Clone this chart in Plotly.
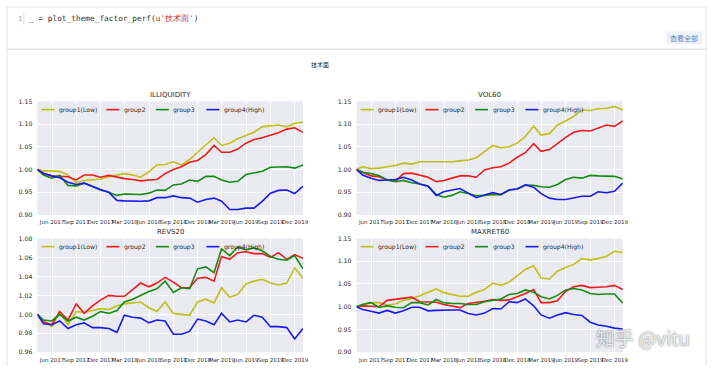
import pandas as pd
import plotly.graph_objects as go

W, H = 720, 369

# ---------------- data ----------------
start_date = ['2017-04-07']
month_ends = [d.strftime('%Y-%m-%d') for d in
              (pd.date_range('2017-05-01', periods=33, freq='MS') - pd.Timedelta(days=1))]
dates = pd.to_datetime(start_date + month_ends)

group_names = ['group1(Low)', 'group2', 'group3', 'group4(High)']
group_colors = ['#bfbf1a', '#f01a1a', '#148a14', '#1a1aee']

factor_titles = ['ILLIQUIDITY', 'VOL60', 'REVS20', 'MAXRET60']

illiq_g1 = [1.000, 0.997, 0.997, 0.996, 0.988, 0.971, 0.976, 0.977, 0.979, 0.984, 0.988, 0.991, 0.988, 0.983,
            0.995, 1.010, 1.011, 1.017, 1.010, 1.022, 1.038, 1.055, 1.070, 1.053, 1.058, 1.068, 1.075, 1.082,
            1.094, 1.096, 1.098, 1.094, 1.102, 1.104]
illiq_g2 = [1.000, 0.992, 0.986, 0.985, 0.984, 0.977, 0.988, 0.988, 0.983, 0.987, 0.983, 0.980, 0.978, 0.975,
            0.977, 0.978, 0.991, 1.000, 1.006, 1.016, 1.020, 1.033, 1.053, 1.038, 1.038, 1.045, 1.058, 1.066,
            1.070, 1.076, 1.081, 1.089, 1.092, 1.082]
illiq_g3 = [1.000, 0.988, 0.981, 0.987, 0.965, 0.964, 0.970, 0.962, 0.955, 0.950, 0.943, 0.946, 0.946, 0.945,
            0.948, 0.955, 0.954, 0.966, 0.968, 0.977, 0.974, 0.985, 0.985, 0.977, 0.972, 0.974, 0.989, 0.993,
            0.996, 1.005, 1.006, 1.006, 1.003, 1.010]
illiq_g4 = [1.000, 0.991, 0.986, 0.982, 0.972, 0.967, 0.970, 0.962, 0.956, 0.950, 0.932, 0.931, 0.930, 0.930,
            0.931, 0.938, 0.938, 0.942, 0.938, 0.937, 0.928, 0.934, 0.937, 0.930, 0.912, 0.912, 0.915, 0.915,
            0.930, 0.948, 0.954, 0.955, 0.947, 0.963]

vol_g1 = [1.000, 1.006, 1.002, 1.003, 1.006, 1.009, 1.014, 1.012, 1.017, 1.017, 1.017, 1.017, 1.017, 1.019,
          1.021, 1.026, 1.039, 1.053, 1.048, 1.050, 1.058, 1.073, 1.096, 1.076, 1.079, 1.098, 1.107, 1.117,
          1.131, 1.130, 1.134, 1.135, 1.139, 1.131]
vol_g2 = [1.000, 0.994, 0.986, 0.984, 0.978, 0.974, 0.991, 0.992, 0.988, 0.983, 0.973, 0.976, 0.981, 0.986,
          0.986, 0.983, 0.999, 1.004, 1.006, 1.014, 1.027, 1.037, 1.057, 1.040, 1.044, 1.058, 1.071, 1.082,
          1.086, 1.085, 1.092, 1.098, 1.095, 1.107]
vol_g3 = [1.000, 0.994, 0.991, 0.987, 0.977, 0.973, 0.976, 0.971, 0.968, 0.964, 0.945, 0.939, 0.943, 0.951,
          0.947, 0.942, 0.943, 0.945, 0.944, 0.955, 0.957, 0.966, 0.965, 0.962, 0.961, 0.967, 0.978, 0.983,
          0.981, 0.987, 0.986, 0.986, 0.985, 0.979]
vol_g4 = [1.000, 0.988, 0.981, 0.976, 0.977, 0.978, 0.983, 0.977, 0.968, 0.963, 0.943, 0.951, 0.955, 0.958,
          0.948, 0.938, 0.944, 0.949, 0.945, 0.955, 0.957, 0.966, 0.961, 0.947, 0.937, 0.934, 0.934, 0.937,
          0.941, 0.941, 0.951, 0.949, 0.952, 0.970]

rev_g1 = [1.000, 0.993, 0.987, 1.002, 0.989, 1.003, 1.002, 1.004, 1.006, 1.005, 1.009, 1.011, 1.012, 1.013,
          1.007, 1.003, 1.013, 1.001, 1.000, 0.999, 1.013, 1.016, 1.012, 1.028, 1.018, 1.021, 1.032, 1.035,
          1.037, 1.033, 1.031, 1.033, 1.049, 1.038]
rev_g2 = [1.000, 0.992, 0.989, 1.003, 0.994, 1.011, 1.001, 1.009, 1.015, 1.020, 1.019, 1.019, 1.026, 1.033,
          1.029, 1.033, 1.039, 1.034, 1.028, 1.028, 1.038, 1.039, 1.035, 1.061, 1.058, 1.065, 1.066, 1.064,
          1.064, 1.060, 1.065, 1.058, 1.063, 1.059]
rev_g3 = [1.000, 0.994, 0.993, 1.000, 0.993, 0.997, 0.994, 0.998, 1.003, 1.001, 1.004, 1.013, 1.016, 1.020,
          1.024, 1.027, 1.035, 1.023, 1.028, 1.027, 1.048, 1.050, 1.044, 1.069, 1.062, 1.071, 1.068, 1.070,
          1.067, 1.061, 1.058, 1.057, 1.062, 1.048]
rev_g4 = [1.000, 0.990, 0.989, 0.993, 0.985, 0.989, 0.991, 0.986, 0.986, 0.985, 0.981, 0.999, 0.997, 0.996,
          0.991, 0.994, 0.993, 0.979, 0.979, 0.982, 0.995, 0.993, 0.989, 1.001, 0.992, 0.994, 0.992, 0.999,
          0.997, 0.987, 0.987, 0.986, 0.974, 0.985]

max_g1 = [1.000, 1.005, 1.009, 1.009, 1.004, 1.006, 1.014, 1.018, 1.024, 1.031, 1.039, 1.031, 1.027, 1.023,
          1.023, 1.032, 1.038, 1.052, 1.047, 1.054, 1.068, 1.082, 1.090, 1.063, 1.061, 1.078, 1.086, 1.093,
          1.106, 1.103, 1.106, 1.111, 1.122, 1.119]
max_g2 = [1.000, 1.002, 1.001, 1.000, 1.014, 1.016, 1.018, 1.021, 1.011, 1.011, 1.010, 1.005, 1.002, 0.998,
          1.007, 1.009, 1.012, 1.016, 1.014, 1.015, 1.022, 1.029, 1.038, 1.009, 1.009, 1.013, 1.034, 1.044,
          1.047, 1.042, 1.043, 1.044, 1.047, 1.038]
max_g3 = [1.000, 1.005, 1.009, 0.999, 1.002, 0.999, 0.998, 1.009, 1.009, 1.004, 1.016, 1.009, 1.007, 1.007,
          1.005, 1.005, 1.011, 1.014, 1.017, 1.027, 1.029, 1.037, 1.032, 1.022, 1.017, 1.025, 1.037, 1.040,
          1.037, 1.029, 1.027, 1.028, 1.028, 1.008]
max_g4 = [1.000, 0.994, 0.990, 0.986, 0.992, 0.986, 0.991, 0.999, 0.999, 0.991, 0.992, 0.993, 0.993, 0.993,
          0.985, 0.982, 0.986, 0.996, 0.995, 1.011, 1.009, 1.017, 1.002, 0.982, 0.975, 0.982, 0.987, 0.983,
          0.981, 0.966, 0.960, 0.957, 0.953, 0.951]

tick_dates = ['2017-06-01', '2017-09-01', '2017-12-01', '2018-03-01', '2018-06-01', '2018-09-01',
              '2018-12-01', '2019-03-01', '2019-06-01', '2019-09-01', '2019-12-01']
tick_labels = ['Jun 2017', 'Sep 2017', 'Dec 2017', 'Mar 2018', 'Jun 2018', 'Sep 2018',
               'Dec 2018', 'Mar 2019', 'Jun 2019', 'Sep 2019', 'Dec 2019']

yticks_wide = [0.90, 0.95, 1.00, 1.05, 1.10, 1.15]
yticks_narrow = [0.96, 0.98, 1.00, 1.02, 1.04, 1.06, 1.08]

panel_series = [
    [illiq_g1, illiq_g2, illiq_g3, illiq_g4],
    [vol_g1, vol_g2, vol_g3, vol_g4],
    [rev_g1, rev_g2, rev_g3, rev_g4],
    [max_g1, max_g2, max_g3, max_g4],
]
panel_yticks = [yticks_wide, yticks_wide, yticks_narrow, yticks_wide]

# ---------------- layout geometry (pixels) ----------------
panel_px = [
    ((37.7, 305.5), (99.3, 215.0)),
    ((359.5, 628.0), (99.3, 215.0)),
    ((37.7, 305.5), (239.0, 355.0)),
    ((359.5, 628.0), (239.0, 355.0)),
]
legend_offsets = [4, 69, 118.5, 169]

FONT = 'DejaVu Sans'
TXT = '#2b2b2b'


def px_x(x):
    return x / W


def px_y(y):
    return 1 - y / H


fig = go.Figure()
layout = dict(
    width=W, height=H, autosize=False,
    margin=dict(l=0, r=0, t=0, b=0),
    paper_bgcolor='white', plot_bgcolor='#EAEAF2',
    showlegend=False,
    font=dict(family=FONT, size=6.2, color=TXT),
)
annotations = []
shapes = []

for k in range(4):
    suffix = '' if k == 0 else str(k + 1)
    (x0, x1), (y0, y1) = panel_px[k]
    ax_x = 'x' + suffix
    ax_y = 'y' + suffix
    for g in range(4):
        fig.add_trace(go.Scatter(
            x=dates, y=panel_series[k][g], mode='lines', name=group_names[g],
            line=dict(color=group_colors[g], width=1.6),
            xaxis=ax_x, yaxis=ax_y, hoverinfo='skip'))
    yt = panel_yticks[k]
    layout['xaxis' + suffix] = dict(
        domain=[px_x(x0), px_x(x1)], anchor=ax_y,
        range=[dates[0], dates[-1]],
        tickmode='array', tickvals=pd.to_datetime(tick_dates), ticktext=tick_labels,
        tickangle=0, showgrid=True, gridcolor='white', gridwidth=1,
        zeroline=False, showline=False, ticks='', ticklabelstandoff=3,
        tickfont=dict(family=FONT, size=5.5, color=TXT), fixedrange=True)
    layout['yaxis' + suffix] = dict(
        domain=[px_y(y1), px_y(y0)], anchor=ax_x,
        range=[yt[0], yt[-1]],
        tickmode='array', tickvals=yt, ticktext=['%.2f' % v for v in yt],
        showgrid=True, gridcolor='white', gridwidth=1,
        zeroline=False, showline=False, ticks='', ticklabelstandoff=4,
        tickfont=dict(family=FONT, size=6.2, color=TXT), fixedrange=True)

    # subplot title
    annotations.append(dict(
        text=factor_titles[k], xref=ax_x + ' domain', yref=ax_y + ' domain',
        x=0.5, y=1, xanchor='center', yanchor='bottom', yshift=0, showarrow=False,
        font=dict(family=FONT, size=7, color=TXT)))

    # legend (one row inside top of panel)
    for g in range(4):
        off = legend_offsets[g]
        shapes.append(dict(
            type='line', xref=ax_x + ' domain', yref=ax_y + ' domain',
            xsizemode='pixel', xanchor=0, x0=off, x1=off + 13,
            ysizemode='pixel', yanchor=1, y0=-8.2, y1=-8.2,
            line=dict(color=group_colors[g], width=1.6)))
        annotations.append(dict(
            text=group_names[g], xref=ax_x + ' domain', yref=ax_y + ' domain',
            x=0, y=1, xanchor='left', yanchor='middle', xshift=off + 15.5, yshift=-8.2,
            showarrow=False, font=dict(family=FONT, size=6.1, color=TXT)))

# ---------------- notebook chrome ----------------
line_c = '#e4e4e4'
shapes += [
    dict(type='line', xref='paper', yref='paper', x0=px_x(6), x1=px_x(712), y0=px_y(3), y1=px_y(3),
         line=dict(color=line_c, width=1)),
    dict(type='line', xref='paper', yref='paper', x0=px_x(7), x1=px_x(7), y0=px_y(3), y1=px_y(369),
         line=dict(color=line_c, width=1)),
    dict(type='line', xref='paper', yref='paper', x0=px_x(712), x1=px_x(712), y0=px_y(3), y1=px_y(369),
         line=dict(color=line_c, width=1)),
    dict(type='line', xref='paper', yref='paper', x0=px_x(7), x1=px_x(712), y0=px_y(46), y1=px_y(46),
         line=dict(color='#e2e2e2', width=1.5)),
    dict(type='line', xref='paper', yref='paper', x0=px_x(24), x1=px_x(24), y0=px_y(9), y1=px_y(21),
         line=dict(color='#dddddd', width=1)),
    dict(type='rect', xref='paper', yref='paper', x0=px_x(672), x1=px_x(708), y0=px_y(41), y1=px_y(28),
         fillcolor='#eef2f8', line=dict(width=0)),
]

annotations += [
    dict(text='1', xref='paper', yref='paper', x=px_x(20), y=px_y(15), xanchor='center', yanchor='middle',
         showarrow=False, font=dict(family='DejaVu Sans Mono', size=7, color='#9a9a9a')),
    dict(text="_ = plot_theme_factor_perf(<span style='color:#b8262a'>u'技术面'</span>)",
         xref='paper', yref='paper', x=px_x(27), y=px_y(15), xanchor='left', yanchor='middle',
         showarrow=False, font=dict(family='DejaVu Sans Mono', size=7.8, color='#333333')),
    dict(text='查看全部', xref='paper', yref='paper', x=px_x(690), y=px_y(34.5), xanchor='center',
         yanchor='middle', showarrow=False,
         font=dict(family='Noto Sans CJK SC', size=7, color='#5a84c4')),
    dict(text='技术面', xref='paper', yref='paper', x=px_x(323), y=px_y(62), xanchor='center',
         yanchor='middle', showarrow=False,
         font=dict(family='Noto Sans CJK SC', size=6, color=TXT)),
    dict(text='知乎 @vitu', xref='paper', yref='paper', x=px_x(648), y=px_y(340), xanchor='center',
         yanchor='middle', showarrow=False,
         font=dict(family='Noto Sans CJK SC', size=19, color='rgba(240,240,240,0.95)',
                   shadow='0px 0px 2px rgba(0,0,0,0.65)')),
]

layout['annotations'] = annotations
layout['shapes'] = shapes
fig.update_layout(**layout)

fig.write_html('out.html', config={'displayModeBar': False},
               post_script="document.body.style.margin='0px';document.body.style.overflow='hidden';")
